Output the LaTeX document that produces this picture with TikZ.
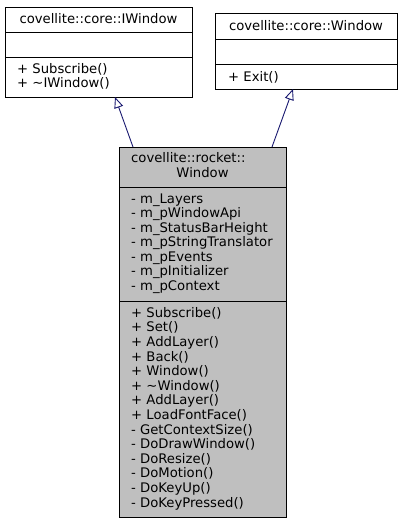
\documentclass[tikz,border=0pt]{standalone}
\usepackage{fontspec}
\setmainfont{DejaVu Sans}
\usetikzlibrary{arrows.meta}
\definecolor{edgeblue}{HTML}{191970}
\definecolor{boxgray}{HTML}{BFBFBF}
\tikzset{
  x=1pt, y=-1pt,
  umlbox/.style={draw=black, line width=0.9pt},
  sep/.style={draw=black, line width=0.9pt},
  lbl/.style={anchor=base west, inner sep=0pt, font=\fontsize{13.2}{14.5}\selectfont},
  clbl/.style={anchor=base, inner sep=0pt, font=\fontsize{13.2}{14.5}\selectfont},
  inh/.style={draw=edgeblue, line width=0.9pt, -{Triangle[open, length=11pt, width=9pt, fill=white]}}
}
\begin{document}
\begin{tikzpicture}
\useasboundingbox (0,0) rectangle (403,523);
% boxes
\path[umlbox, fill=white] (5,7) rectangle (192,97);
\node[inner sep=0pt, minimum width=187pt, minimum height=90pt] (b1) at (98.5,52) {};
\draw[sep] (5,32) -- (192,32);
\draw[sep] (5,57) -- (192,57);
\path[umlbox, fill=white] (215,13) rectangle (397,89);
\node[inner sep=0pt, minimum width=182pt, minimum height=76pt] (b2) at (306,51) {};
\draw[sep] (215,39) -- (397,39);
\draw[sep] (215,64) -- (397,64);
\path[umlbox, fill=boxgray] (119,147) rectangle (286,517);
\node[inner sep=0pt, minimum width=167pt, minimum height=370pt] (b3) at (202.5,332) {};
\draw[sep] (119,187) -- (286,187);
\draw[sep] (119,301) -- (286,301);
% texts box 1
\node[clbl] (t1) at (98.5,23.5) {covellite::core::IWindow};
\node[lbl] (m11) at (17,73.3) {+ Subscribe()};
\node[lbl] (m12) at (17,87.3) {+ \textasciitilde IWindow()};
% texts box 2
\node[clbl] (t2) at (306,30.7) {covellite::core::Window};
\node[lbl] (m21) at (228,81.7) {+ Exit()};
% texts box 3
\node[lbl] (t3a) at (131,162.7) {covellite::rocket::};
\node[clbl] (t3b) at (202.5,177.3) {Window};
\foreach \t [count=\i from 0] in {m\_Layers, m\_pWindowApi, m\_StatusBarHeight, m\_pStringTranslator, m\_pEvents, m\_pInitializer, m\_pContext}
  \node[lbl] (a\i) at (131,203.3+14.45*\i) {- \t};
\foreach \t [count=\i from 0] in {+ Subscribe(), + Set(), + AddLayer(), + Back(), + Window(), + \textasciitilde Window(), + AddLayer(), + LoadFontFace(), - GetContextSize(), - DoDrawWindow(), - DoResize(), - DoMotion(), - DoKeyUp(), - DoKeyPressed()}
  \node[lbl] (o\i) at (131,317.3+14.6*\i) {\t};
% connectors
\coordinate (s1) at (133,147);
\coordinate (e1) at (115,97);
\coordinate (s2) at (272,147);
\coordinate (e2) at (293,89);
\draw[inh] (s1) -- (e1);
\draw[inh] (s2) -- (e2);
\end{tikzpicture}
\end{document}
